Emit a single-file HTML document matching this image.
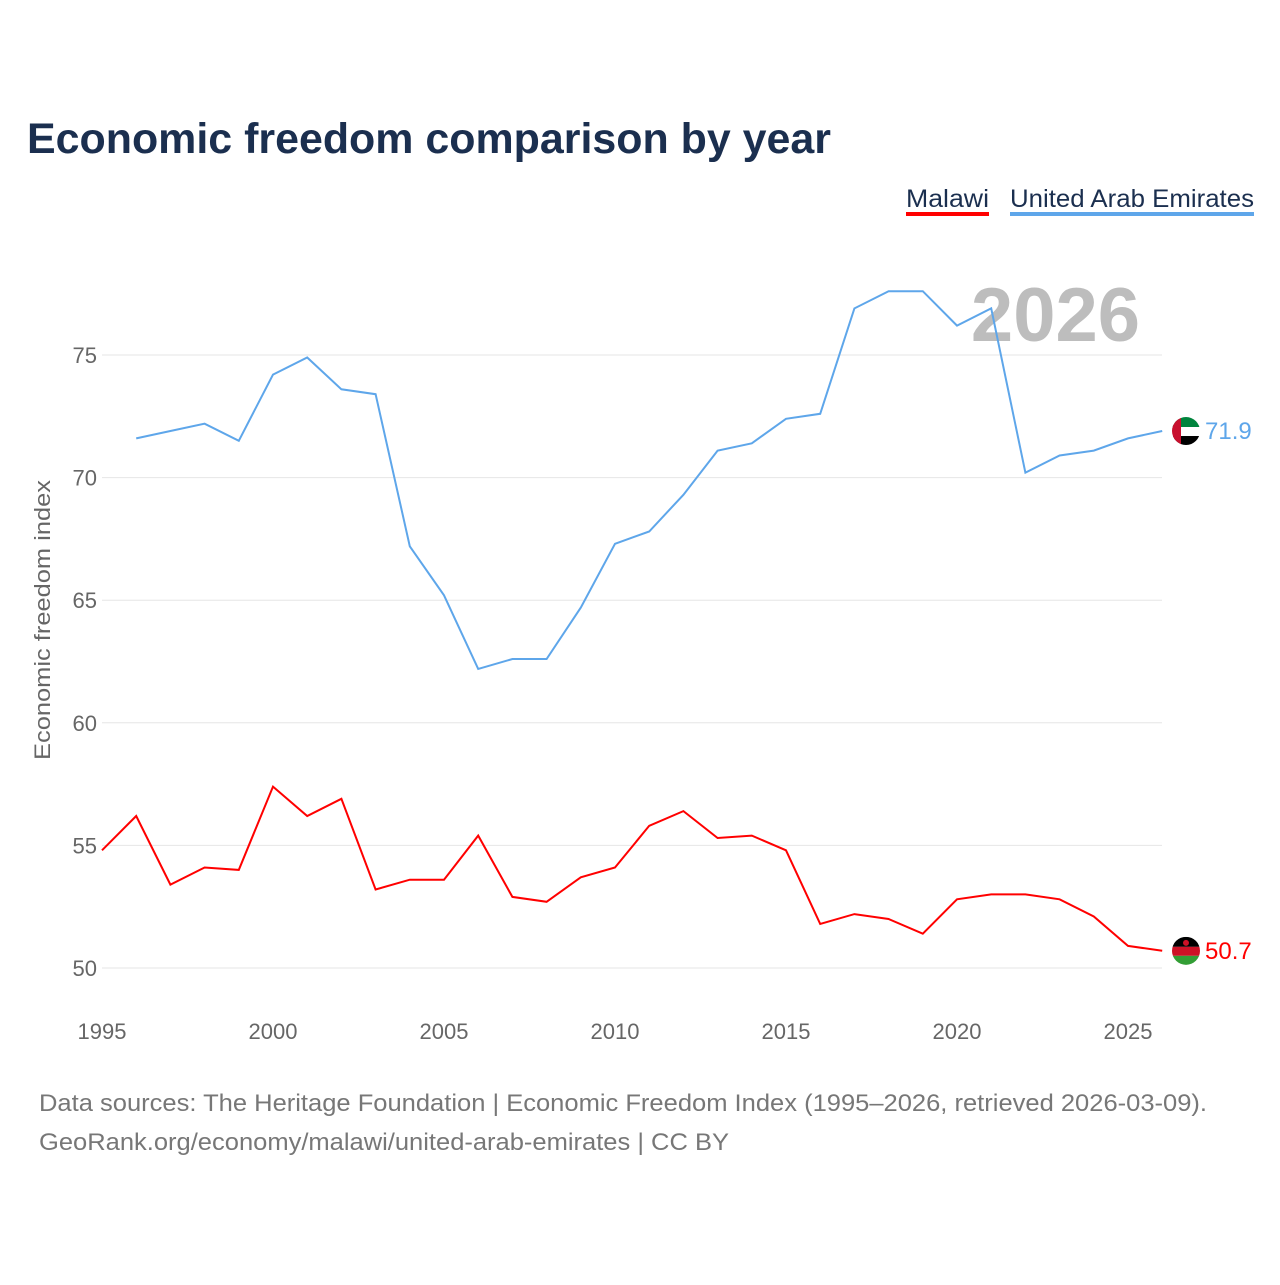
<!DOCTYPE html>
<html><head><meta charset="utf-8">
<style>
html,body{margin:0;padding:0;background:#fff;}
body{width:1280px;height:1280px;overflow:hidden;font-family:"Liberation Sans",sans-serif;}
</style></head>
<body>
<svg id="chart" width="1280" height="1280" xmlns="http://www.w3.org/2000/svg" font-family="Liberation Sans, sans-serif">
<text x="27" y="153" font-size="43" font-weight="bold" fill="#1b2f4f" textLength="804" lengthAdjust="spacingAndGlyphs">Economic freedom comparison by year</text>
<g>
<text x="906" y="207" font-size="25" fill="#1b2f4f" textLength="83" lengthAdjust="spacingAndGlyphs">Malawi</text>
<rect x="906" y="212" width="83" height="4" fill="#ff0000"/>
<text x="1010" y="207" font-size="25" fill="#1b2f4f" textLength="244" lengthAdjust="spacingAndGlyphs">United Arab Emirates</text>
<rect x="1010" y="212" width="244" height="4" fill="#5ea6ea"/>
</g>
<text x="1140" y="341" font-size="76" font-weight="bold" fill="#bdbdbd" text-anchor="end">2026</text>
<text transform="translate(50,620) rotate(-90)" font-size="22" fill="#666" text-anchor="middle" textLength="280" lengthAdjust="spacingAndGlyphs">Economic freedom index</text>
<g id="grid"></g><g id="xt"></g><g id="lines"></g>
<text x="39" y="1111" font-size="24" fill="#777" textLength="1168" lengthAdjust="spacingAndGlyphs">Data sources: The Heritage Foundation | Economic Freedom Index (1995–2026, retrieved 2026-03-09).</text>
<text x="39" y="1150" font-size="24" fill="#777" textLength="690" lengthAdjust="spacingAndGlyphs">GeoRank.org/economy/malawi/united-arab-emirates | CC BY</text>
</svg>
<script>
const years=[1995,1996,1997,1998,1999,2000,2001,2002,2003,2004,2005,2006,2007,2008,2009,2010,2011,2012,2013,2014,2015,2016,2017,2018,2019,2020,2021,2022,2023,2024,2025,2026];
const malawi=[54.8,56.2,53.4,54.1,54.0,57.4,56.2,56.9,53.2,53.6,53.6,55.4,52.9,52.7,53.7,54.1,55.8,56.4,55.3,55.4,54.8,51.8,52.2,52.0,51.4,52.8,53.0,53.0,52.8,52.1,50.9,50.7];
const uae=[null,71.6,71.9,72.2,71.5,74.2,74.9,73.6,73.4,67.2,65.2,62.2,62.6,62.6,64.7,67.3,67.8,69.3,71.1,71.4,72.4,72.6,76.9,77.6,77.6,76.2,76.9,70.2,70.9,71.1,71.6,71.9];
const yTicks=[50,55,60,65,70,75];
const xTicks=[1995,2000,2005,2010,2015,2020,2025];
const NS="http://www.w3.org/2000/svg";
const X=y=>102+(y-1995)*34.2;
const Y=v=>968-(v-50)*24.52;
function mk(t,a,p){const e=document.createElementNS(NS,t);for(const k in a)e.setAttribute(k,a[k]);p.appendChild(e);return e;}
const grid=document.getElementById('grid');
yTicks.forEach(v=>{
 const l=mk('line',{x1:102,x2:1162,y1:Y(v),y2:Y(v),stroke:'#e6e6e6','stroke-width':1},grid);
 
 
 const t=mk('text',{x:97,y:Y(v)+8,'font-size':22,fill:'#666','text-anchor':'end'},grid);t.textContent=v;
 
 
});
const xt=document.getElementById('xt');
xTicks.forEach(v=>{
 const t=mk('text',{x:X(v),y:1039,'font-size':22,fill:'#666','text-anchor':'middle'},xt);t.textContent=v;
 
 
});
const lines=document.getElementById('lines');
function series(vals,color,name){
 let d='';vals.forEach((v,i)=>{if(v==null)return;d+=(d?'L':'M')+X(years[i]).toFixed(1)+','+Y(v).toFixed(1);});
 const p=mk('path',{d:d,fill:'none',stroke:color,'stroke-width':2},lines);
 
 
 const last=vals[vals.length-1];
 const cy=Y(last);
 const g=mk('g',{},lines);
 
 
 const cl='c'+name;
 const cp=mk('clipPath',{id:cl},g);mk('circle',{cx:1186,cy:cy,r:14},cp);
 const f=mk('g',{'clip-path':'url(#'+cl+')'},g);
 if(name==='malawi'){
  mk('rect',{x:1172,y:cy-14,width:28,height:10,fill:'#000'},f);
  mk('rect',{x:1172,y:cy-4,width:28,height:9,fill:'#ce1126'},f);
  mk('rect',{x:1172,y:cy+5,width:28,height:10,fill:'#339e35'},f);
  mk('circle',{cx:1186,cy:cy-8,r:3,fill:'#ce1126'},f);
 }else{
  mk('rect',{x:1172,y:cy-14,width:28,height:10,fill:'#00843d'},f);
  mk('rect',{x:1172,y:cy-4,width:28,height:9,fill:'#fff'},f);
  mk('rect',{x:1172,y:cy+5,width:28,height:10,fill:'#000'},f);
  mk('rect',{x:1172,y:cy-14,width:9,height:28,fill:'#c8102e'},f);
 }
 const t=mk('text',{x:1205,y:cy+8,'font-size':24,fill:color},lines);t.textContent=last.toFixed(1);
 
 
}
series(uae,'#5ea6ea','uae');
series(malawi,'#ff0000','malawi');
</script>
</body></html>
